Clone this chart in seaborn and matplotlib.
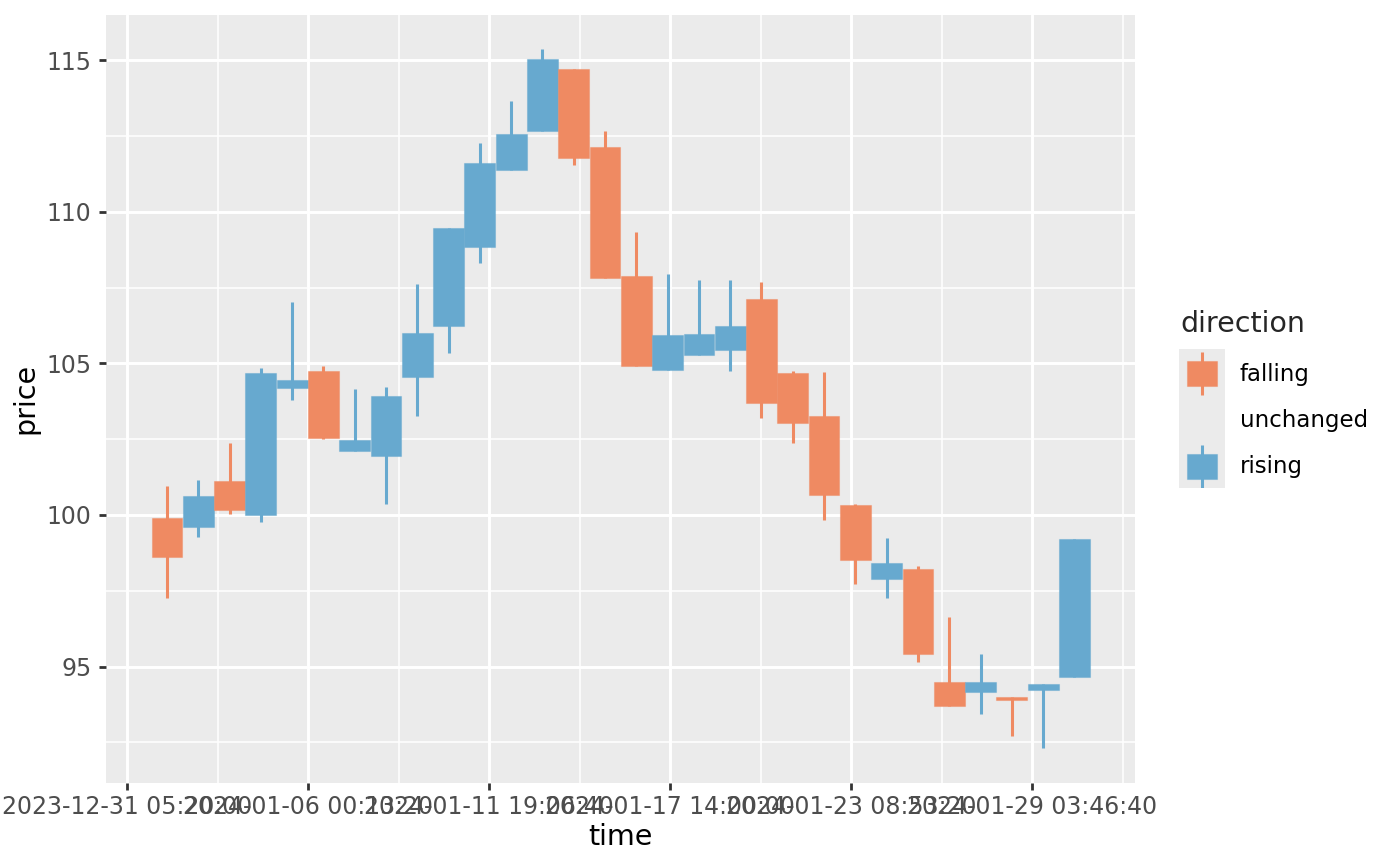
import numpy as np
import pandas as pd
import matplotlib
matplotlib.use("Agg")
import matplotlib.pyplot as plt
import seaborn as sns
from matplotlib.patches import Rectangle

# ---------------- data ----------------
dates = ["2024-01-01 12:00", "2024-01-02 12:00", "2024-01-03 12:00", "2024-01-04 12:00",
         "2024-01-05 12:00", "2024-01-06 12:00", "2024-01-07 12:00", "2024-01-08 12:00",
         "2024-01-09 12:00", "2024-01-10 12:00", "2024-01-11 12:00", "2024-01-12 12:00",
         "2024-01-13 12:00", "2024-01-14 12:00", "2024-01-15 12:00", "2024-01-16 12:00",
         "2024-01-17 12:00", "2024-01-18 12:00", "2024-01-19 12:00", "2024-01-20 12:00",
         "2024-01-21 12:00", "2024-01-22 12:00", "2024-01-23 12:00", "2024-01-24 12:00",
         "2024-01-25 12:00", "2024-01-26 12:00", "2024-01-27 12:00", "2024-01-28 12:00",
         "2024-01-29 12:00", "2024-01-30 12:00"]
open_ = [99.89, 99.61, 101.11, 100.01, 104.20, 104.75, 102.10, 101.94, 104.54, 106.22,
         108.83, 111.37, 112.68, 114.72, 112.15, 107.89, 104.77, 105.26, 105.43, 107.11,
         104.68, 103.25, 100.32, 97.90, 98.23, 94.48, 94.15, 93.99, 94.24, 94.66]
close = [98.60, 100.63, 100.16, 104.67, 104.46, 102.55, 102.46, 103.91, 106.01, 109.48,
         111.62, 112.57, 115.03, 111.78, 107.81, 104.90, 105.94, 105.97, 106.22, 103.70,
         103.04, 100.67, 98.52, 98.41, 95.42, 93.70, 94.49, 93.89, 94.41, 99.22]
high = [100.97, 101.15, 102.36, 104.84, 107.02, 104.92, 104.17, 104.23, 107.62, 109.48,
        112.26, 113.67, 115.36, 114.72, 112.68, 109.33, 107.95, 107.74, 107.76, 107.67,
        104.75, 104.71, 100.36, 99.24, 98.31, 96.65, 95.43, 93.99, 94.41, 99.22]
low = [97.25, 99.26, 100.02, 99.78, 103.79, 102.52, 102.10, 100.35, 103.28, 105.35,
       108.31, 111.37, 112.68, 111.55, 107.81, 104.90, 104.77, 105.26, 104.75, 103.19,
       102.38, 99.82, 97.71, 97.27, 95.15, 93.70, 93.45, 92.72, 92.33, 94.66]

directions = ["falling", "unchanged", "rising"]
direction_colors = ["#EF8A62", "#F7F7F7", "#67A9CF"]

xtick_labels = ["2023-12-31 05:20:00", "2024-01-06 00:13:20", "2024-01-11 19:06:40",
                "2024-01-17 14:00:00", "2024-01-23 08:53:20", "2024-01-29 03:46:40"]
ytick_values = [95, 100, 105, 110, 115]

# ---------------- frame ----------------
df = pd.DataFrame({"time": pd.to_datetime(dates), "open": open_, "close": close,
                   "high": high, "low": low})
df["direction"] = np.where(df["close"] > df["open"], "rising",
                           np.where(df["close"] < df["open"], "falling", "unchanged"))
cmap = dict(zip(directions, direction_colors))
df["color"] = df["direction"].map(cmap)

# ---------------- style ----------------
sns.set_theme(style="darkgrid", rc={
    "axes.facecolor": "#EBEBEB",
    "figure.facecolor": "white",
    "grid.color": "white",
    "axes.edgecolor": "#EBEBEB",
    "xtick.bottom": True, "ytick.left": True,
})
plt.rcParams["font.family"] = ["DejaVu Sans"]

W, H = 1400, 866
fig = plt.figure(figsize=(W / 100, H / 100), dpi=100)
L, R, T, B = 106, 1135, 15, 782.7
ax = fig.add_axes([L / W, 1 - B / H, (R - L) / W, (B - T) / H])

# wicks
for d, g in df.groupby("direction"):
    ax.vlines(g["time"], g["low"], g["high"], colors=cmap[d], linewidth=2.2, zorder=2)

# bodies
body_bottom = np.minimum(df["open"], df["close"])
body_height = np.abs(df["close"] - df["open"])
edge = [matplotlib.colors.to_rgba(c, 0.45) for c in df["color"]]
ax.bar(df["time"], body_height, bottom=body_bottom, width=0.985,
       color=df["color"], edgecolor=edge, linewidth=0.8, zorder=3)

# axes scales
ax.set_xlim(pd.Timestamp("2023-12-30 13:13:36"), pd.Timestamp("2024-02-01 10:29:00"))
ax.set_ylim(91.17, 116.49)

xt = pd.to_datetime(xtick_labels)
ax.set_xticks(xt)
ax.set_xticklabels(xtick_labels)
ax.set_xticks(xt + pd.Timedelta(seconds=250000), minor=True)
ax.set_yticks(ytick_values)
ax.set_yticklabels([str(v) for v in ytick_values])
ax.set_yticks([v + 2.5 for v in ytick_values[:-1]] + [92.5], minor=True)

ax.grid(which="major", color="white", linewidth=2.1)
ax.grid(which="minor", color="white", linewidth=1.1)
ax.set_axisbelow(True)
for s in ax.spines.values():
    s.set_visible(False)

ax.tick_params(axis="both", which="major", length=5.3, width=2.0, color="#333333",
               labelsize=17, labelcolor="#4D4D4D")
ax.tick_params(axis="x", which="major", pad=3.6)
ax.tick_params(axis="y", which="major", pad=5.2)
ax.tick_params(which="minor", length=0)

ax.set_xlabel("time", fontsize=20.5, color="black", labelpad=3)
ax.set_ylabel("price", fontsize=20.5, color="black", labelpad=5)

# ---------------- legend ----------------
lx, ly, lw, lh = 1179, 349, 46, 139
lax = fig.add_axes([lx / W, 1 - (ly + lh) / H, lw / W, lh / H])
lax.set_facecolor("#EBEBEB")
lax.set_xlim(0, lw)
lax.set_ylim(lh, 0)
lax.axis("off")
lax.add_patch(Rectangle((0, 0), lw, lh, facecolor="#EBEBEB", edgecolor="none", zorder=0))
key_h = lh / 3
for i, d in enumerate(directions):
    if d == "unchanged":
        continue
    c = cmap[d]
    y0 = i * key_h
    lax.vlines(lw / 2, y0 + 3, y0 + key_h - 0.5, colors=c, linewidth=2.2, zorder=2)
    lax.add_patch(Rectangle((8, y0 + 12), 30, 25, facecolor=c,
                            edgecolor=matplotlib.colors.to_rgba(c, 0.45), linewidth=0.8, zorder=3))
fig.text(1180 / W, 1 - 324 / H, "direction", fontsize=20.5, ha="left", va="center")
for i, d in enumerate(directions):
    fig.text(1240 / W, 1 - (ly + key_h * (i + 0.5) + 2) / H, d, fontsize=16.5,
             ha="left", va="center", color="black")

fig.savefig("out.png", dpi=100)
